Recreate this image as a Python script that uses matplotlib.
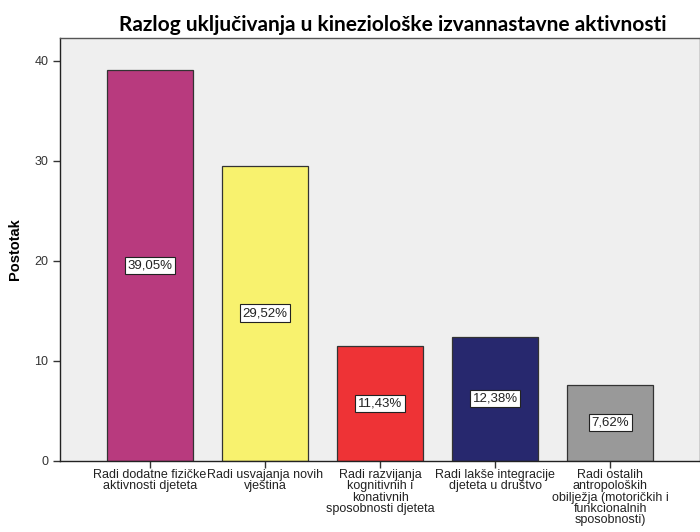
import matplotlib
matplotlib.use('Agg')
import matplotlib.pyplot as plt

plt.rcParams['font.family'] = ['Liberation Sans', 'DejaVu Sans']

# Data
categories = ['Radi dodatne fizičke\naktivnosti djeteta',
              'Radi usvajanja novih\nvještina',
              'Radi razvijanja\nkognitivnih i\nkonativnih\nsposobnosti djeteta',
              'Radi lakše integracije\ndjeteta u društvo',
              'Radi ostalih\nantropoloških\nobilježja (motoričkih i\nfunkcionalnih\nsposobnosti)']
values = [39.05, 29.52, 11.43, 12.38, 7.62]
labels = ['39,05%', '29,52%', '11,43%', '12,38%', '7,62%']
colors = ['#B83A7E', '#F8F26E', '#EE3336', '#27286E', '#999999']

fig = plt.figure(figsize=(7, 5.32), dpi=100)
ax = fig.add_axes([0.086, 0.134, 0.914, 0.795])
ax.set_facecolor('#EFEFEF')

x = range(len(values))
ax.bar(x, values, width=0.75, color=colors, edgecolor='#333333', linewidth=0.9, zorder=2)

for xi, v, lab in zip(x, values, labels):
    ax.text(xi, v / 2, lab, ha='center', va='center', fontsize=9.5, color='#222222',
            bbox=dict(boxstyle='square,pad=0.2', facecolor='white', edgecolor='#222222', linewidth=0.8),
            zorder=3)

ax.set_xlim(-0.78, 4.78)
ax.set_ylim(0, 42.3)
ax.set_yticks([0, 10, 20, 30, 40])
ax.set_xticks(list(x))
ax.set_xticklabels(categories, fontsize=9, linespacing=0.92)
ax.tick_params(axis='y', labelsize=9, length=5, width=1, color='#333333', labelcolor='#333333')
ax.tick_params(axis='x', length=5, width=1, color='#333333', labelcolor='#222222', pad=1)

for s in ax.spines.values():
    s.set_color('#555555')
    s.set_linewidth(1)
ax.spines['bottom'].set_color('#222222')
ax.spines['left'].set_color('#222222')

ax.set_ylabel('Postotak', fontsize=10.5, fontweight='bold', labelpad=9)
ax.set_title('Razlog uključivanja u kineziološke izvannastavne aktivnosti',
             fontsize=15, fontweight='bold', family='Lato', pad=5, x=0.519)

fig.savefig('out.png', dpi=100)
